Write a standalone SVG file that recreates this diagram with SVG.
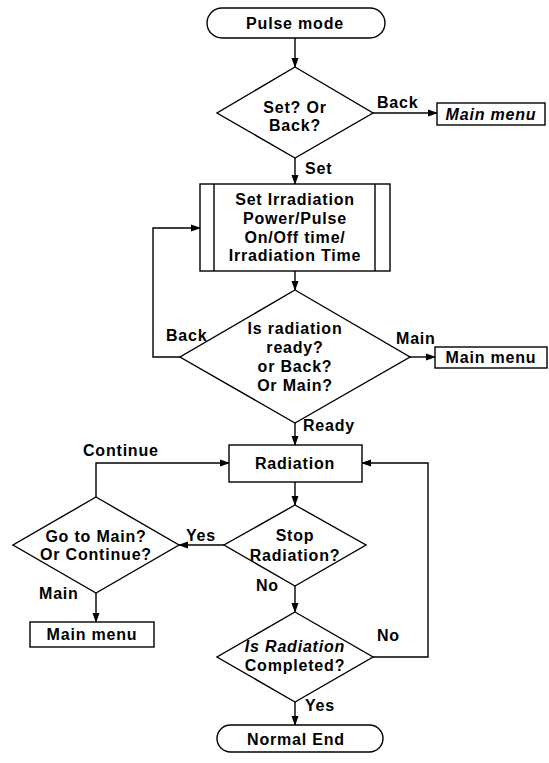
<svg xmlns="http://www.w3.org/2000/svg" width="549" height="763" viewBox="0 0 549 763">
<defs>
<marker id="ah" markerWidth="10" markerHeight="8" refX="9" refY="4" orient="auto" markerUnits="userSpaceOnUse">
<path d="M0,0.5 L10,4 L0,7.5 Z" fill="#000"/>
</marker>
<style>
.s{fill:#fff;stroke:#000;stroke-width:1.4}
.c{fill:none;stroke:#000;stroke-width:1.4;marker-end:url(#ah)}
.l{fill:none;stroke:#000;stroke-width:1.4}
text{font-family:"Liberation Sans",Arial,sans-serif;font-size:16px;font-weight:bold;letter-spacing:0.8px;fill:#000}
.m{text-anchor:middle}
.i{font-style:italic}
</style>
</defs>
<rect width="549" height="763" fill="#fff"/>
<g id="connectors">
<line class="c" x1="295" y1="38" x2="295" y2="67"/>
<line class="c" x1="373" y1="113" x2="437" y2="113"/>
<line class="c" x1="295" y1="158" x2="295" y2="184"/>
<line class="c" x1="295" y1="271" x2="295" y2="290"/>
<polyline class="c" points="180,357 153,357 153,228 200,228"/>
<line class="c" x1="410" y1="357" x2="435" y2="357"/>
<line class="c" x1="295" y1="423" x2="295" y2="445"/>
<line class="c" x1="295" y1="482" x2="295" y2="505"/>
<line class="c" x1="224" y1="545" x2="179" y2="545"/>
<polyline class="c" points="96,497 96,463 229,463"/>
<line class="c" x1="96" y1="593" x2="96" y2="622"/>
<line class="c" x1="295" y1="586" x2="295" y2="612"/>
<polyline class="c" points="373,657 428,657 428,463 362,463"/>
<line class="c" x1="295" y1="702" x2="295" y2="725"/>
<text x="377" y="108">Back</text>
<text x="305" y="174">Set</text>
<text x="166" y="341">Back</text>
<text x="396" y="344">Main</text>
<text x="303" y="431">Ready</text>
<text x="83" y="456">Continue</text>
<text x="186" y="541">Yes</text>
<text x="39" y="599">Main</text>
<text x="256" y="591">No</text>
<text x="377" y="641">No</text>
<text x="305" y="711">Yes</text>
</g>
<g id="pulse-mode">
<rect class="s" x="207" y="8" width="178" height="30" rx="15"/>
<text class="m" x="295" y="29">Pulse mode</text>
</g>
<g id="set-or-back">
<polygon class="s" points="295,67 373,113 295,158 217,113"/>
<text class="m" x="295" y="113">Set? Or</text>
<text class="m" x="295" y="131">Back?</text>
</g>
<g id="main-menu-1">
<rect class="s" x="437" y="103" width="108" height="22"/>
<text class="m i" x="491" y="120">Main menu</text>
</g>
<g id="set-irradiation">
<rect class="s" x="200" y="184" width="190" height="87"/>
<line class="l" x1="214" y1="184" x2="214" y2="271"/>
<line class="l" x1="375" y1="184" x2="375" y2="271"/>
<text class="m" x="295" y="205">Set Irradiation</text>
<text class="m" x="295" y="224">Power/Pulse</text>
<text class="m" x="295" y="243">On/Off time/</text>
<text class="m" x="295" y="261">Irradiation Time</text>
</g>
<g id="radiation-ready">
<polygon class="s" points="295,290 410,357 295,423 180,357"/>
<text class="m" x="295" y="334">Is radiation</text>
<text class="m" x="295" y="353">ready?</text>
<text class="m" x="295" y="372">or Back?</text>
<text class="m" x="295" y="391">Or Main?</text>
</g>
<g id="main-menu-2">
<rect class="s" x="435" y="347" width="112" height="21"/>
<text class="m" x="491" y="363">Main menu</text>
</g>
<g id="radiation">
<rect class="s" x="229" y="445" width="133" height="37"/>
<text class="m" x="295" y="469">Radiation</text>
</g>
<g id="stop-radiation">
<polygon class="s" points="295,505 366,545 295,586 224,545"/>
<text class="m" x="295" y="541">Stop</text>
<text class="m" x="295" y="561">Radiation?</text>
</g>
<g id="go-to-main">
<polygon class="s" points="96,497 179,545 96,593 13,545"/>
<text class="m" x="96" y="542">Go to Main?</text>
<text class="m" x="96" y="560">Or Continue?</text>
</g>
<g id="main-menu-3">
<rect class="s" x="30" y="622" width="124" height="25"/>
<text class="m" x="92" y="640">Main menu</text>
</g>
<g id="radiation-completed">
<polygon class="s" points="295,612 373,657 295,702 217,657"/>
<text class="m i" x="295" y="652">Is Radiation</text>
<text class="m" x="295" y="671">Completed?</text>
</g>
<g id="normal-end">
<rect class="s" x="217" y="725" width="166" height="27" rx="13.5"/>
<text class="m" x="296" y="745">Normal End</text>
</g>
</svg>
